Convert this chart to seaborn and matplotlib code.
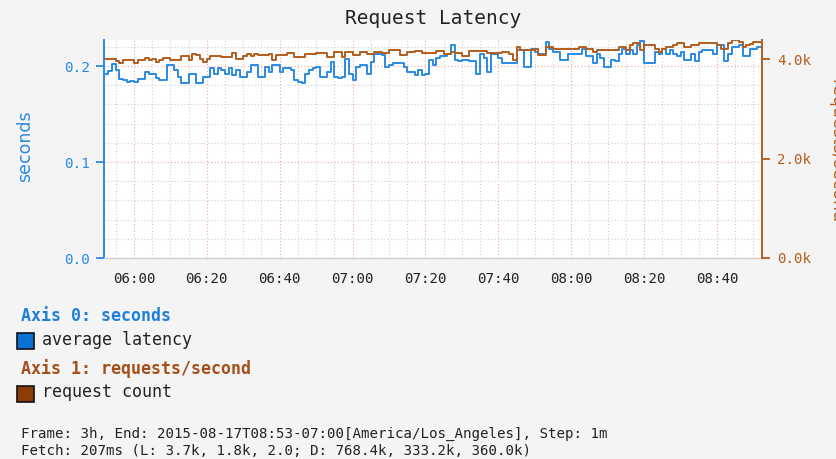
import numpy as np
import pandas as pd
import matplotlib
matplotlib.use("Agg")
import matplotlib.pyplot as plt
import matplotlib.dates as mdates
from matplotlib.patches import Rectangle
from matplotlib.ticker import FixedLocator, MultipleLocator, FuncFormatter
import seaborn as sns

# one sample per minute, 05:52 .. 08:51
start_time = "2015-08-17 05:52"

# average latency (seconds)
latency = [
    0.192, 0.195, 0.202, 0.196, 0.186, 0.185, 0.183, 0.184, 0.183, 0.186,
    0.186, 0.194, 0.192, 0.192, 0.187, 0.185, 0.185, 0.201, 0.201, 0.196,
    0.189, 0.182, 0.182, 0.192, 0.192, 0.182, 0.182, 0.189, 0.189, 0.198,
    0.192, 0.198, 0.196, 0.192, 0.198, 0.191, 0.196, 0.189, 0.189, 0.194,
    0.201, 0.201, 0.189, 0.189, 0.199, 0.194, 0.201, 0.201, 0.194, 0.198,
    0.198, 0.196, 0.185, 0.183, 0.182, 0.192, 0.196, 0.198, 0.199, 0.189,
    0.189, 0.194, 0.204, 0.189, 0.187, 0.189, 0.207, 0.192, 0.185, 0.199,
    0.201, 0.201, 0.192, 0.204, 0.212, 0.212, 0.211, 0.199, 0.201, 0.203,
    0.203, 0.203, 0.199, 0.194, 0.194, 0.191, 0.196, 0.191, 0.192, 0.206,
    0.201, 0.208, 0.210, 0.210, 0.212, 0.222, 0.206, 0.205, 0.206, 0.206,
    0.205, 0.205, 0.192, 0.212, 0.208, 0.194, 0.213, 0.213, 0.208, 0.203,
    0.203, 0.203, 0.203, 0.217, 0.217, 0.199, 0.199, 0.218, 0.215, 0.212,
    0.212, 0.225, 0.218, 0.215, 0.215, 0.206, 0.206, 0.212, 0.212, 0.213,
    0.212, 0.218, 0.210, 0.210, 0.203, 0.213, 0.208, 0.199, 0.199, 0.206,
    0.205, 0.212, 0.218, 0.212, 0.217, 0.213, 0.222, 0.226, 0.203, 0.203,
    0.203, 0.215, 0.213, 0.218, 0.213, 0.217, 0.213, 0.210, 0.215, 0.206,
    0.206, 0.212, 0.205, 0.215, 0.217, 0.217, 0.217, 0.212, 0.222, 0.222,
    0.205, 0.213, 0.220, 0.220, 0.222, 0.210, 0.210, 0.218, 0.218, 0.220,
]

# request count (thousand requests/second)
requests_k = [
    4.00, 4.00, 4.00, 3.96, 3.91, 3.99, 3.99, 3.98, 3.91, 3.97,
    3.97, 4.03, 3.97, 4.01, 3.93, 3.97, 4.03, 4.03, 3.98, 3.98,
    3.98, 4.06, 4.06, 3.99, 4.10, 4.08, 4.01, 3.93, 4.01, 4.06,
    4.06, 4.06, 4.05, 4.05, 4.05, 4.12, 4.01, 4.01, 4.06, 4.10,
    4.06, 4.10, 4.08, 4.08, 4.08, 4.10, 3.98, 4.08, 4.08, 4.08,
    4.12, 4.12, 4.05, 4.05, 4.05, 4.10, 4.10, 4.10, 4.12, 4.12,
    4.12, 4.05, 4.05, 4.15, 4.15, 4.05, 4.15, 4.15, 4.08, 4.08,
    4.15, 4.15, 4.10, 4.10, 4.15, 4.15, 4.12, 4.12, 4.18, 4.18,
    4.18, 4.08, 4.08, 4.15, 4.15, 4.17, 4.17, 4.13, 4.13, 4.12,
    4.12, 4.17, 4.17, 4.10, 4.10, 4.15, 4.12, 4.12, 4.06, 4.06,
    4.17, 4.17, 4.17, 4.17, 4.17, 4.13, 4.13, 4.13, 4.13, 4.15,
    4.15, 4.10, 3.98, 4.25, 4.19, 4.19, 4.19, 4.19, 4.21, 4.08,
    4.08, 4.25, 4.25, 4.21, 4.21, 4.21, 4.21, 4.21, 4.21, 4.21,
    4.25, 4.25, 4.21, 4.21, 4.15, 4.18, 4.18, 4.18, 4.18, 4.18,
    4.18, 4.25, 4.25, 4.18, 4.28, 4.32, 4.32, 4.18, 4.28, 4.28,
    4.28, 4.21, 4.15, 4.21, 4.25, 4.25, 4.28, 4.32, 4.32, 4.25,
    4.25, 4.28, 4.28, 4.32, 4.32, 4.32, 4.32, 4.32, 4.28, 4.21,
    4.21, 4.32, 4.38, 4.38, 4.35, 4.25, 4.28, 4.30, 4.35, 4.35,
]

left_ticks = [0.0, 0.1, 0.2]
right_ticks = [0.0, 2.0, 4.0]

footer = ["Frame: 3h, End: 2015-08-17T08:53-07:00[America/Los_Angeles], Step: 1m",
          "Fetch: 207ms (L: 3.7k, 1.8k, 2.0; D: 768.4k, 333.2k, 360.0k)"]

BLUE = "#2b8ae4"
BROWN = "#b35d1e"
BG = "#f4f4f4"

times = pd.date_range(start_time, periods=len(latency), freq="min")
df = pd.DataFrame({"time": times, "latency": latency, "requests": requests_k})
# close the last step at the end of its minute
last = df.iloc[[-1]].copy()
last["time"] = last["time"] + pd.Timedelta(minutes=1)
df = pd.concat([df, last], ignore_index=True)

sns.set_theme(style="white")
plt.rcParams["font.family"] = ["DejaVu Sans Mono"]

W, H = 836, 459
fig = plt.figure(figsize=(W / 100, H / 100), dpi=100, facecolor=BG)
ax = fig.add_axes([104 / W, 1 - 258 / H, 658 / W, 218 / H])
ax.set_facecolor("white")

sns.lineplot(data=df, x="time", y="latency", ax=ax, color=BLUE, lw=1.4,
             drawstyle="steps-post", estimator=None)
ax2 = ax.twinx()
sns.lineplot(data=df, x="time", y="requests", ax=ax2, color=BROWN, lw=1.4,
             drawstyle="steps-post", estimator=None)

ax.set_xlim(pd.Timestamp("2015-08-17 05:51:47"), pd.Timestamp("2015-08-17 08:52:21"))
ax.set_ylim(0, 0.2271)
ax2.set_ylim(0, 4.382)
ax.set_xlabel("")
ax.set_ylabel("")
ax2.set_ylabel("")

# x axis
ax.xaxis.set_major_locator(mdates.MinuteLocator(byminute=[0, 20, 40]))
ax.xaxis.set_major_formatter(mdates.DateFormatter("%H:%M"))
ax.xaxis.set_minor_locator(mdates.MinuteLocator(byminute=range(0, 60, 5)))
ax.tick_params(axis="x", which="major", length=6, width=1.3, color="#222222",
               labelsize=10.2, labelcolor="#222222", pad=4)
ax.tick_params(axis="x", which="minor", length=0)

# left axis
ax.yaxis.set_major_locator(FixedLocator(left_ticks))
ax.yaxis.set_major_formatter(FuncFormatter(lambda v, p: f"{v:.1f}"))
ax.yaxis.set_minor_locator(MultipleLocator(0.02))
ax.tick_params(axis="y", which="major", length=6, width=1.3, color=BLUE,
               labelsize=10.4, labelcolor=BLUE, pad=4)
ax.tick_params(axis="y", which="minor", length=0)

# right axis
ax2.yaxis.set_major_locator(FixedLocator(right_ticks))
ax2.yaxis.set_major_formatter(FuncFormatter(lambda v, p: f"{v:.1f}k"))
ax2.tick_params(axis="y", which="major", length=6, width=1.3, color=BROWN,
                labelsize=10.2, labelcolor=BROWN, pad=5)

# grid
ax.grid(which="major", axis="both", color="#f3a3a3", linestyle=(0, (1, 2)), lw=0.8)
ax.grid(which="minor", axis="both", color="#cfcfcf", linestyle=(0, (1, 2)), lw=0.8)
ax.set_axisbelow(True)

for s in ["top", "right"]:
    ax.spines[s].set_visible(False)
ax.spines["left"].set_color(BLUE)
ax.spines["left"].set_linewidth(1.4)
ax.spines["bottom"].set_color("#d0d0d0")
ax.spines["bottom"].set_linewidth(1.0)
for s in ["top", "left", "bottom"]:
    ax2.spines[s].set_visible(False)
ax2.spines["right"].set_color(BROWN)
ax2.spines["right"].set_linewidth(1.4)

# titles and axis names
fig.text(433 / W, 1 - 19 / H, "Request Latency", ha="center", va="center",
         fontsize=14, color="#222222")
fig.text(25 / W, 1 - 146 / H, "seconds", rotation=90, ha="center", va="center",
         fontsize=12.5, color=BLUE, family="DejaVu Sans")
fig.text(836 / W, 1 - 151 / H, "requests/second", rotation=270, ha="center",
         va="center", fontsize=12.5, color=BROWN, family="DejaVu Sans")

# legend block
fig.text(21 / W, 1 - 316 / H, "Axis 0: seconds", ha="left", va="center",
         fontsize=12, fontweight="bold", color="#1f80dc")
fig.patches.append(Rectangle((17 / W, 1 - 349 / H), 17 / W, 16 / H,
                             transform=fig.transFigure, facecolor="#0a72d4",
                             edgecolor="#111111", lw=1.2))
fig.text(42 / W, 1 - 340 / H, "average latency", ha="left", va="center",
         fontsize=12, color="#222222")
fig.text(21 / W, 1 - 369 / H, "Axis 1: requests/second", ha="left", va="center",
         fontsize=12, fontweight="bold", color="#a4501a")
fig.patches.append(Rectangle((17 / W, 1 - 402 / H), 17 / W, 16 / H,
                             transform=fig.transFigure, facecolor="#8e3b08",
                             edgecolor="#111111", lw=1.2))
fig.text(42 / W, 1 - 392 / H, "request count", ha="left", va="center",
         fontsize=12, color="#222222")

fig.text(21 / W, 1 - 434 / H, footer[0], ha="left", va="center",
         fontsize=10.2, color="#222222")
fig.text(21 / W, 1 - 451 / H, footer[1], ha="left", va="center",
         fontsize=10.2, color="#222222")

fig.savefig("out.png", dpi=100, facecolor=fig.get_facecolor())
